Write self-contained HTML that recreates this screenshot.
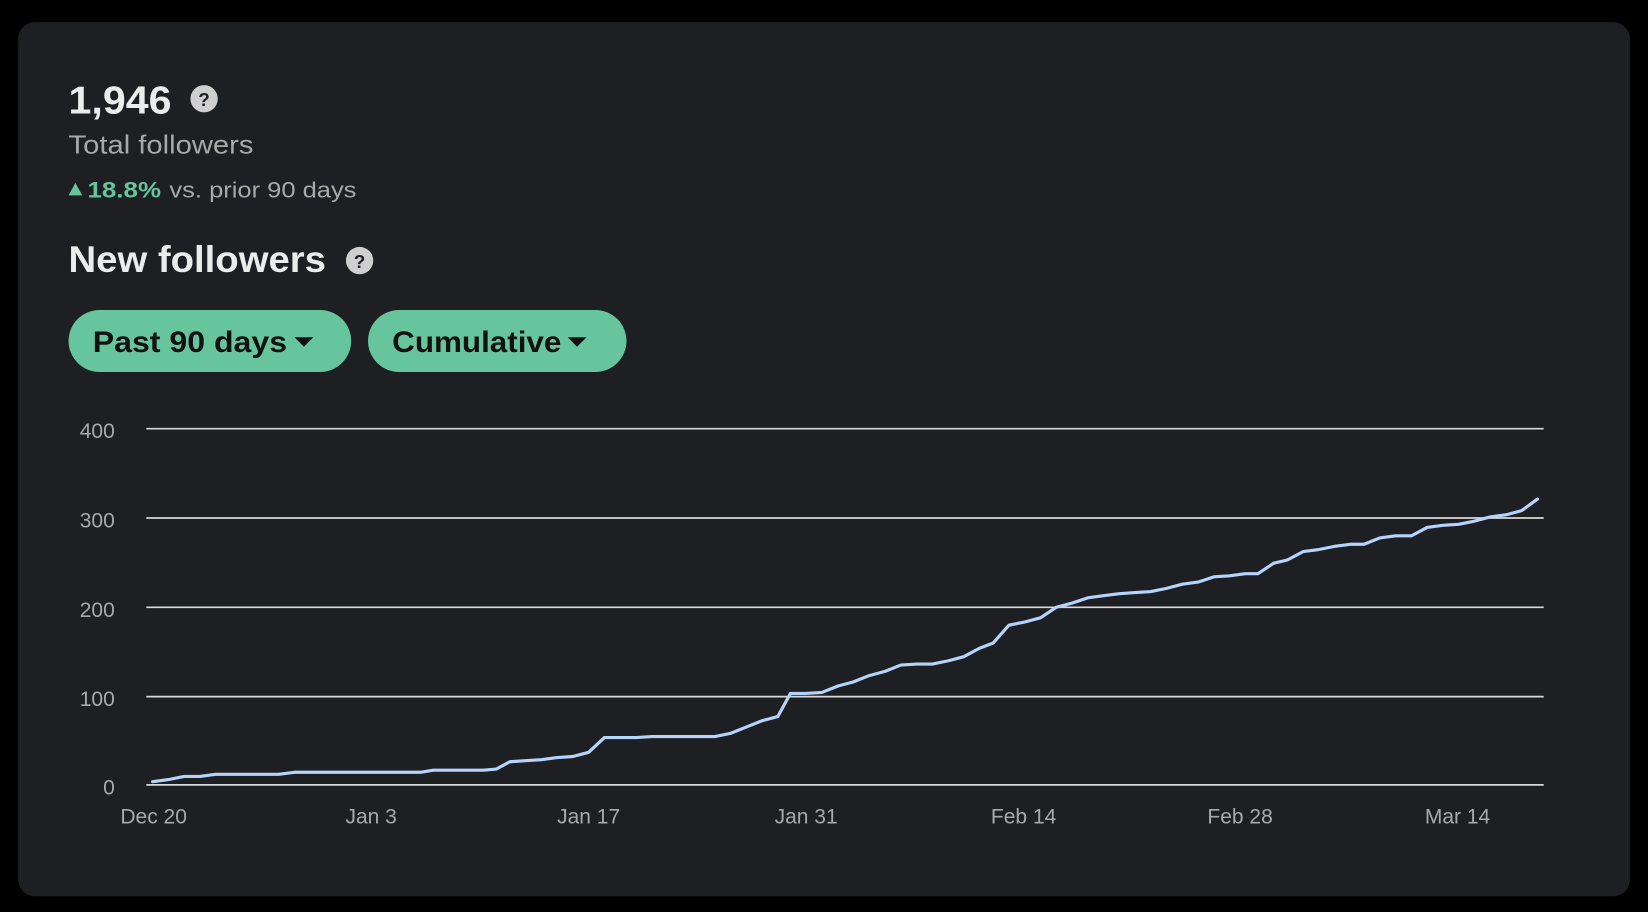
<!DOCTYPE html>
<html><head><meta charset="utf-8"><style>
html,body{margin:0;padding:0;background:#000;width:1648px;height:912px;overflow:hidden}
svg{display:block}
text{font-family:"Liberation Sans",Arial,sans-serif}
</style></head><body>
<svg width="1648" height="912" viewBox="0 0 1568 868" xmlns="http://www.w3.org/2000/svg">
<rect x="0" y="0" width="1568" height="868" fill="#000"/>
<rect x="17" y="21" width="1534" height="832" rx="16" fill="#1d1f23"/>
<text x="65" y="108" font-size="37" font-weight="bold" fill="#ececec" textLength="98" lengthAdjust="spacingAndGlyphs">1,946</text>
<circle cx="194" cy="94" r="13" fill="#cfcfcf"/>
<text x="194" y="101" font-size="18" font-weight="bold" fill="#1d1f23" text-anchor="middle">?</text>
<text x="65" y="146" font-size="25" fill="#a9a9a9" textLength="176" lengthAdjust="spacingAndGlyphs">Total followers</text>
<polygon points="65,186 78,186 71.5,174" fill="#66c59c"/>
<text x="83" y="188" font-size="21" font-weight="bold" fill="#66c59c" textLength="70" lengthAdjust="spacingAndGlyphs">18.8%</text>
<text x="161" y="188" font-size="21" fill="#a9a9a9" textLength="178" lengthAdjust="spacingAndGlyphs">vs. prior 90 days</text>
<text x="65" y="259" font-size="35" font-weight="bold" fill="#ececec" textLength="245" lengthAdjust="spacingAndGlyphs">New followers</text>
<circle cx="342" cy="248" r="13" fill="#cfcfcf"/>
<text x="342" y="255" font-size="18" font-weight="bold" fill="#1d1f23" text-anchor="middle">?</text>
<rect x="65" y="295" width="269" height="59" rx="29.5" fill="#66c59c"/>
<text x="88" y="335" font-size="28" font-weight="bold" fill="#111" textLength="185" lengthAdjust="spacingAndGlyphs">Past 90 days</text>
<polygon points="280,321 298,321 289,330" fill="#111"/>
<rect x="350" y="295" width="246" height="59" rx="29.5" fill="#66c59c"/>
<text x="373" y="335" font-size="28" font-weight="bold" fill="#111" textLength="161" lengthAdjust="spacingAndGlyphs">Cumulative</text>
<polygon points="540,321 558,321 549,330" fill="#111"/>
<g stroke="#d8d8d8" stroke-width="1.6">
<line x1="139" y1="408" x2="1469" y2="408"/>
<line x1="139" y1="493" x2="1469" y2="493"/>
<line x1="139" y1="578" x2="1469" y2="578"/>
<line x1="139" y1="663" x2="1469" y2="663"/>
<line x1="139" y1="747" x2="1469" y2="747"/>
</g>
<g font-size="20" fill="#a9a9a9" text-anchor="end">
<text x="109" y="417">400</text><text x="109" y="502">300</text><text x="109" y="587">200</text><text x="109" y="672">100</text><text x="109" y="756">0</text>
</g>
<g font-size="20" fill="#a9a9a9" text-anchor="middle">
<text x="146" y="784">Dec 20</text><text x="353" y="784">Jan 3</text><text x="560" y="784">Jan 17</text><text x="767" y="784">Jan 31</text><text x="974" y="784">Feb 14</text><text x="1180" y="784">Feb 28</text><text x="1387" y="784">Mar 14</text>
</g>
<polyline fill="none" stroke="#b5d4fb" stroke-width="3" stroke-linejoin="round" stroke-linecap="round" points="145,744 160,742 175,739 190,739 205,737 265,737 280,735 400,735 412,733 460,733 472,732 485,725 500,724 515,723 530,721 545,720 560,716 575,702 590,702 605,702 620,701 680,701 695,698 710,692 725,686 740,682 752,660 767,660 782,659 797,653 812,649 827,643 842,639 857,633 872,632 887,632 902,629 917,625 932,617 945,612 960,595 975,592 990,588 1005,578 1020,574 1035,569 1050,567 1065,565 1080,564 1095,563 1110,560 1125,556 1140,554 1155,549 1170,548 1185,546 1197,546 1212,536 1225,533 1240,525 1255,523 1270,520 1285,518 1298,518 1313,512 1328,510 1343,510 1358,502 1373,500 1388,499 1403,496 1418,492 1433,490 1448,486 1463,475"/>
</svg>
</body></html>
